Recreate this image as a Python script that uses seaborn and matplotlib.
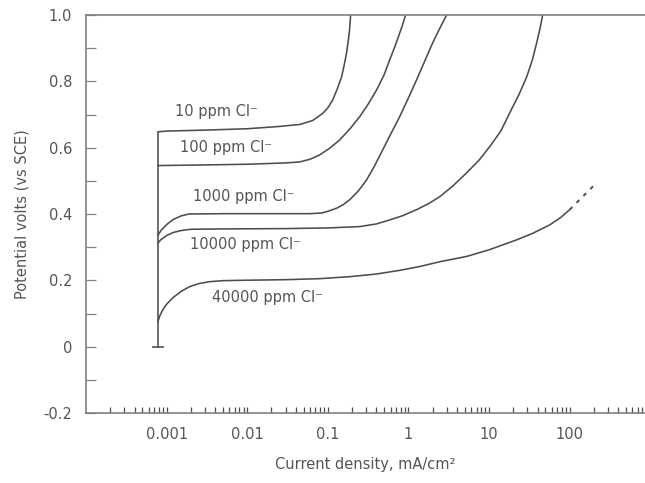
import numpy as np
import pandas as pd
import matplotlib
matplotlib.use("Agg")
import matplotlib.pyplot as plt
import matplotlib.ticker as mticker
import seaborn as sns

# ---------------- data ----------------
x_start = 7.8e-4  # common starting current density, mA/cm2
v_start_line = [0.0, 0.648]

c10_x = [7.8e-4, 0.001, 0.003, 0.01, 0.025, 0.045, 0.065, 0.086, 0.10, 0.115, 0.13,
         0.148, 0.16, 0.171, 0.18, 0.186, 0.192]
c10_v = [0.648, 0.650, 0.653, 0.657, 0.664, 0.670, 0.682, 0.703, 0.720, 0.744, 0.775,
         0.813, 0.850, 0.886, 0.925, 0.955, 1.0]

c100_x = [7.8e-4, 0.003, 0.01, 0.03, 0.0447, 0.06, 0.079, 0.105, 0.14, 0.19, 0.248,
          0.32, 0.403, 0.5, 0.584, 0.68, 0.778, 0.85, 0.923]
c100_v = [0.546, 0.548, 0.550, 0.554, 0.557, 0.565, 0.578, 0.598, 0.623, 0.658, 0.693,
          0.733, 0.774, 0.820, 0.864, 0.905, 0.945, 0.972, 1.0]

c1000_x = [7.8e-4, 0.00085, 0.001, 0.0012, 0.0015, 0.0019, 0.005, 0.02, 0.06, 0.0838,
           0.10, 0.13, 0.155, 0.187, 0.24, 0.303, 0.38, 0.479, 0.6, 0.778, 1.0, 1.26,
           1.6, 2.0, 2.45, 2.98]
c1000_v = [0.336, 0.350, 0.368, 0.383, 0.394, 0.400, 0.401, 0.401, 0.401, 0.403,
           0.408, 0.418, 0.428, 0.443, 0.470, 0.503, 0.545, 0.593, 0.640, 0.693, 0.750, 0.804,
           0.862, 0.916, 0.960, 1.0]

c10000_x = [7.8e-4, 0.00085, 0.001, 0.0012, 0.0015, 0.002, 0.005, 0.03, 0.1, 0.248, 0.4,
            0.584, 0.85, 1.26, 1.8, 2.44, 3.5, 5.27, 7.5, 10.2, 14.0, 18.0, 23.5, 29.3,
            34.5, 39.0, 43.0, 46.3]
c10000_v = [0.312, 0.323, 0.335, 0.344, 0.350, 0.354, 0.355, 0.356, 0.358, 0.362, 0.370,
            0.382, 0.395, 0.413, 0.432, 0.452, 0.483, 0.524, 0.562, 0.603, 0.650, 0.704, 0.760,
            0.813, 0.865, 0.916, 0.960, 1.0]

c40000_x = [7.8e-4, 0.00082, 0.0009, 0.001, 0.00119, 0.0015, 0.00193, 0.0025, 0.0034,
            0.005, 0.008, 0.03, 0.079, 0.187, 0.4, 0.778, 1.4, 2.44, 5.27, 10.0, 22.0,
            35.0, 56.5, 78.0, 100.0]
c40000_v = [0.075, 0.092, 0.112, 0.128, 0.147, 0.166, 0.181, 0.190, 0.196,
            0.199, 0.200, 0.202, 0.205, 0.211, 0.219, 0.230, 0.242, 0.256, 0.272, 0.292, 0.322,
            0.342, 0.367, 0.390, 0.413]

c40000_ext_x = [100.0, 204.0]
c40000_ext_v = [0.413, 0.488]

labels = ["10 ppm Cl\u207b", "100 ppm Cl\u207b", "1000 ppm Cl\u207b",
          "10000 ppm Cl\u207b", "40000 ppm Cl\u207b"]
label_x = [0.00126, 0.00145, 0.0021, 0.00193, 0.00361]
label_v = [0.708, 0.599, 0.452, 0.307, 0.148]

x_ticks = [0.001, 0.01, 0.1, 1, 10, 100]
x_ticklabels = ["0.001", "0.01", "0.1", "1", "10", "100"]
y_ticks = [-0.2, 0.0, 0.2, 0.4, 0.6, 0.8, 1.0]
y_ticklabels = ["-0.2", "0", "0.2", "0.4", "0.6", "0.8", "1.0"]

# ---------------- style ----------------
sns.set_theme(style="white")
plt.rcParams["font.family"] = ["DejaVu Sans"]
text_col = "#555555"
line_col = "#4d4d4d"
spine_col = "#808080"
lw = 1.15

fig = plt.figure(figsize=(6.45, 4.83), dpi=100)
W, H = 645, 483
ax = fig.add_axes([86 / W, 1 - 413 / H, (W - 86) / W, 398 / H])

curves = [(c10_x, c10_v), (c100_x, c100_v), (c1000_x, c1000_v),
          (c10000_x, c10000_v), (c40000_x, c40000_v)]
for cx, cv in curves:
    df = pd.DataFrame({"x": cx, "v": cv})
    sns.lineplot(data=df, x="x", y="v", ax=ax, color=line_col, lw=lw,
                 sort=False, estimator=None)

# common vertical start line with base tick
df_v = pd.DataFrame({"x": [x_start, x_start], "v": v_start_line})
sns.lineplot(data=df_v, x="x", y="v", ax=ax, color=line_col, lw=lw,
             sort=False, estimator=None)
ax.plot([x_start], [0.0], marker="_", ms=8, mew=lw, color=line_col)

# dotted extrapolation of 40000 ppm curve
df_e = pd.DataFrame({"x": c40000_ext_x, "v": c40000_ext_v})
sns.lineplot(data=df_e, x="x", y="v", ax=ax, color=line_col, lw=1.4,
             sort=False, estimator=None, linestyle=(0, (2, 3)))

for t, lx, lv in zip(labels, label_x, label_v):
    ax.text(lx, lv, t, ha="left", va="center", fontsize=10.5, color=text_col)

ax.set_xscale("log")
ax.set_xlim(1e-4, 10 ** 2.935)
ax.set_ylim(-0.2, 1.0)

ax.xaxis.set_major_locator(mticker.FixedLocator(x_ticks))
ax.xaxis.set_major_formatter(mticker.FixedFormatter(x_ticklabels))
ax.xaxis.set_minor_locator(mticker.LogLocator(base=10, subs=np.arange(2, 10), numticks=20))
ax.xaxis.set_minor_formatter(mticker.NullFormatter())
ax.set_yticks(y_ticks)
ax.set_yticklabels(y_ticklabels)
ax.yaxis.set_minor_locator(mticker.MultipleLocator(0.1))

ax.tick_params(axis="x", which="both", direction="in", length=4, width=0.9,
               color=line_col, bottom=True, top=False, labelsize=10.5,
               labelcolor=text_col, pad=10)
ax.tick_params(axis="y", which="both", direction="in", length=7, width=0.9,
               color=spine_col, left=True, right=False, labelsize=10.5,
               labelcolor=text_col, pad=10)

for side in ["left", "bottom", "top"]:
    ax.spines[side].set_visible(True)
    ax.spines[side].set_color(spine_col)
    ax.spines[side].set_linewidth(1.2)
ax.spines["right"].set_visible(False)

ax.set_xlabel("Current density, mA/cm\u00b2", fontsize=10.5, color=text_col, labelpad=11)
ax.set_ylabel("Potential volts (vs SCE)", fontsize=10.5, color=text_col, labelpad=10)

fig.savefig("out.png", dpi=100)
